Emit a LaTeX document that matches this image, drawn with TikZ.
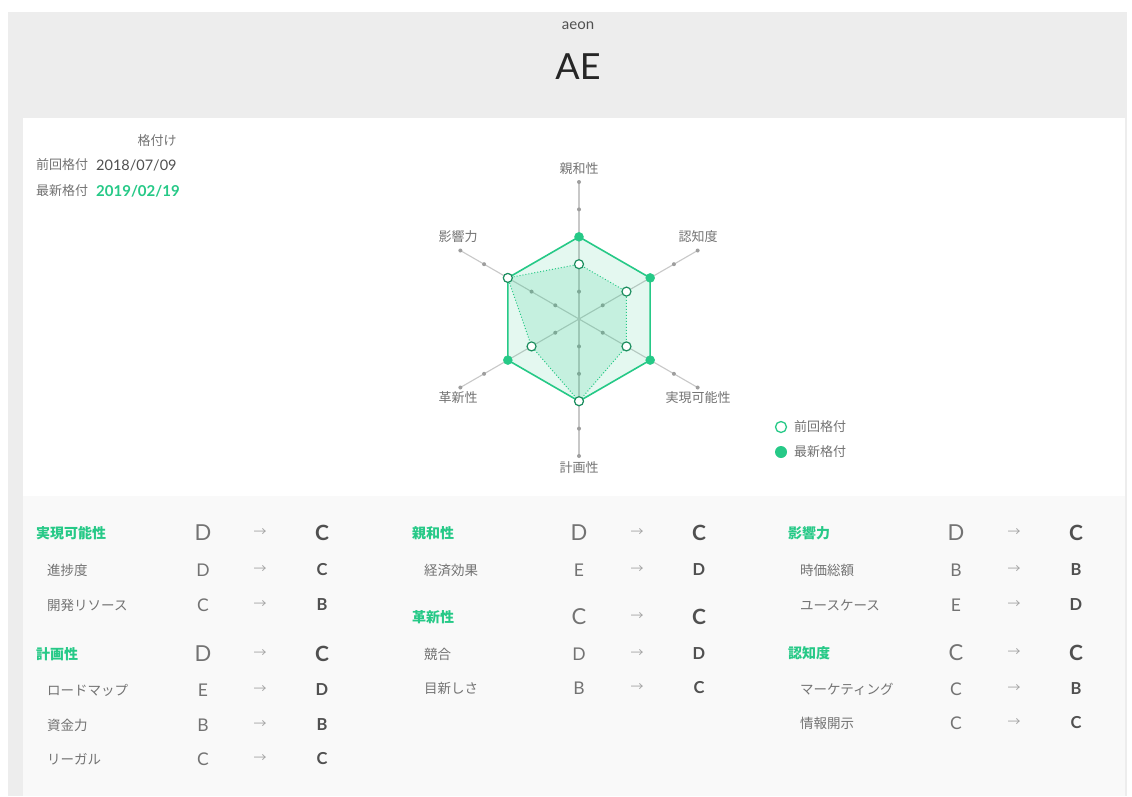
\documentclass[tikz,border=0pt]{standalone}
\usepackage{fontspec}
\setmainfont{Lato}
\newfontfamily\jp{Noto Sans CJK JP}
\usepackage{xcolor}
\usetikzlibrary{calc}
\definecolor{mint}{RGB}{38,201,135}
\definecolor{pagegrey}{RGB}{237,237,237}
\definecolor{tablegrey}{RGB}{249,249,249}
\definecolor{inkgrey}{RGB}{80,80,80}
\definecolor{softgrey}{RGB}{115,115,115}
\definecolor{axisgrey}{RGB}{200,200,200}

\begin{document}
\begin{tikzpicture}[x=1pt,y=-1pt]
    \tikzstyle{axis}=[draw,line width = 1.1pt,axisgrey]
    \tikzstyle{tickdot}=[circle,fill=black!38,inner sep=0pt,minimum size=4pt]
    \tikzstyle{newhex}=[draw=mint,line width = 1.6pt,fill=mint,fill opacity=.12]
    \tikzstyle{oldhex}=[draw=mint,line width = 1pt,dotted,fill=mint,fill opacity=.16]
    \tikzstyle{latest}=[draw=mint,circle,fill=mint,inner sep=0pt,minimum size=9pt]
    \tikzstyle{previous}=[draw=mint!70!black,circle,fill=white,line width = 1.2pt,inner sep=0pt,minimum size=9pt]
    \tikzstyle{axlabel}=[softgrey,inner sep=0pt,font=\jp\fontsize{13}{15}\selectfont]
    \tikzstyle{head}=[anchor=west,inner sep=0pt,mint,font=\jp\bfseries\fontsize{14}{16}\selectfont]
    \tikzstyle{item}=[anchor=west,inner sep=0pt,softgrey,font=\jp\fontsize{13.5}{15}\selectfont]
    \tikzstyle{bigold}=[inner sep=0pt,softgrey,font=\fontsize{22}{24}\selectfont]
    \tikzstyle{bignew}=[inner sep=0pt,inkgrey,font=\bfseries\fontsize{21}{24}\selectfont]
    \tikzstyle{oldgrade}=[inner sep=0pt,softgrey,font=\fontsize{17.5}{20}\selectfont]
    \tikzstyle{newgrade}=[inner sep=0pt,inkgrey,font=\bfseries\fontsize{16.5}{19}\selectfont]
    \tikzstyle{arr}=[inner sep=0pt,black!35,font=\jp\fontsize{13}{15}\selectfont]
    \useasboundingbox (0,0) rectangle (1132,796);
    % panels
    \fill[white] (0,0) rectangle (1132,796);
    \fill[pagegrey] (8,12) rectangle (1127,796);
    \fill[white] (23,118) rectangle (1125,496);
    \fill[tablegrey] (23,496) rectangle (1125,796);
    % title
    \node[inkgrey,font=\fontsize{15}{18}\selectfont] (brand) at (578,26) {aeon};
    \node[black!85,font=\fontsize{36}{40}\selectfont] (symbol) at (578,67) {AE};
    % rating dates
    \node[axlabel] (rk) at (157,141) {格付け};
    \node[axlabel,anchor=west] (pl) at (36,165) {前回格付};
    \node[inkgrey,inner sep=0pt,anchor=west,font=\fontsize{14.5}{17}\selectfont] (pd) at (96,165) {2018/07/09};
    \node[axlabel,anchor=west] (nl) at (36,191) {最新格付};
    \node[mint,inner sep=0pt,anchor=west,font=\bfseries\fontsize{15}{17}\selectfont] (nd) at (96,191) {2019/02/19};
    % radar axes
    \coordinate (c) at (579,319);
    \coordinate (e1) at ([shift={(-90:137)}]c);
    \coordinate (e2) at ([shift={(-30:137)}]c);
    \coordinate (e3) at ([shift={(30:137)}]c);
    \coordinate (e4) at ([shift={(90:137)}]c);
    \coordinate (e5) at ([shift={(150:137)}]c);
    \coordinate (e6) at ([shift={(210:137)}]c);
    \draw[axis] (e1) -- (e4);
    \draw[axis] (e2) -- (e5);
    \draw[axis] (e3) -- (e6);
    \foreach \a in {-90,-30,30,90,150,210}
        \foreach \r in {27.4,54.8,82.2,109.6,137}
            \node[tickdot] at ([shift={(\a:\r)}]c) {};
    \node[axlabel] (shinwa) at (579,169) {親和性};
    \node[axlabel] (ninchi) at (698,237) {認知度};
    \node[axlabel] (jitsugen) at (698,398) {実現可能性};
    \node[axlabel] (keikaku) at (579,468) {計画性};
    \node[axlabel] (kakushin) at (458,398) {革新性};
    \node[axlabel] (eikyo) at (458,237) {影響力};
    % latest
    \coordinate (n1) at ([shift={(-90:82.2)}]c);
    \coordinate (n2) at ([shift={(-30:82.2)}]c);
    \coordinate (n3) at ([shift={(30:82.2)}]c);
    \coordinate (n4) at ([shift={(90:82.2)}]c);
    \coordinate (n5) at ([shift={(150:82.2)}]c);
    \coordinate (n6) at ([shift={(210:82.2)}]c);
    % previous
    \coordinate (p1) at ([shift={(-90:54.8)}]c);
    \coordinate (p2) at ([shift={(-30:54.8)}]c);
    \coordinate (p3) at ([shift={(30:54.8)}]c);
    \coordinate (p4) at ([shift={(90:82.2)}]c);
    \coordinate (p5) at ([shift={(150:54.8)}]c);
    \coordinate (p6) at ([shift={(210:82.2)}]c);
    \draw[newhex] (n1) -- (n2) -- (n3) -- (n4) -- (n5) -- (n6) -- cycle;
    \draw[oldhex] (p1) -- (p2) -- (p3) -- (p4) -- (p5) -- (p6) -- cycle;
    \node[latest] (dn1) at (n1) {};
    \node[latest] (dn2) at (n2) {};
    \node[latest] (dn3) at (n3) {};
    \node[latest] (dn4) at (n4) {};
    \node[latest] (dn5) at (n5) {};
    \node[latest] (dn6) at (n6) {};
    \node[previous] (dp1) at (p1) {};
    \node[previous] (dp2) at (p2) {};
    \node[previous] (dp3) at (p3) {};
    \node[previous] (dp4) at (p4) {};
    \node[previous] (dp5) at (p5) {};
    \node[previous] (dp6) at (p6) {};
    % legend
    \node[draw=mint,circle,fill=white,line width = 1.3pt,inner sep=0pt,minimum size=11pt] (lgp) at (781,427) {};
    \node[axlabel,anchor=west] (lgpt) at (794,427) {前回格付};
    \node[circle,fill=mint,inner sep=0pt,minimum size=12pt] (lgn) at (781,452) {};
    \node[axlabel,anchor=west] (lgnt) at (794,452) {最新格付};
    % column 1
    \node[head] (a1h) at (36,533) {実現可能性};  \node[bigold] (a1o) at (203,533) {D}; \node[arr] (a1a) at (260,533) {→}; \node[bignew] (a1n) at (322,533) {C};
    \node[item] (a2h) at (47,570) {進捗度};      \node[oldgrade] (a2o) at (203,570) {D}; \node[arr] (a2a) at (260,570) {→}; \node[newgrade] (a2n) at (322,570) {C};
    \node[item] (a3h) at (47,605) {開発リソース}; \node[oldgrade] (a3o) at (203,605) {C}; \node[arr] (a3a) at (260,605) {→}; \node[newgrade] (a3n) at (322,605) {B};
    \node[head] (a4h) at (36,654) {計画性};      \node[bigold] (a4o) at (203,654) {D}; \node[arr] (a4a) at (260,654) {→}; \node[bignew] (a4n) at (322,654) {C};
    \node[item] (a5h) at (47,690) {ロードマップ}; \node[oldgrade] (a5o) at (203,690) {E}; \node[arr] (a5a) at (260,690) {→}; \node[newgrade] (a5n) at (322,690) {D};
    \node[item] (a6h) at (47,725) {資金力};      \node[oldgrade] (a6o) at (203,725) {B}; \node[arr] (a6a) at (260,725) {→}; \node[newgrade] (a6n) at (322,725) {B};
    \node[item] (a7h) at (47,759) {リーガル};    \node[oldgrade] (a7o) at (203,759) {C}; \node[arr] (a7a) at (260,759) {→}; \node[newgrade] (a7n) at (322,759) {C};
    % column 2
    \node[head] (b1h) at (412,533) {親和性};     \node[bigold] (b1o) at (579,533) {D}; \node[arr] (b1a) at (637,533) {→}; \node[bignew] (b1n) at (699,533) {C};
    \node[item] (b2h) at (424,570) {経済効果};   \node[oldgrade] (b2o) at (579,570) {E}; \node[arr] (b2a) at (637,570) {→}; \node[newgrade] (b2n) at (699,570) {D};
    \node[head] (b3h) at (412,617) {革新性};     \node[bigold] (b3o) at (579,617) {C}; \node[arr] (b3a) at (637,617) {→}; \node[bignew] (b3n) at (699,617) {C};
    \node[item] (b4h) at (424,654) {競合};       \node[oldgrade] (b4o) at (579,654) {D}; \node[arr] (b4a) at (637,654) {→}; \node[newgrade] (b4n) at (699,654) {D};
    \node[item] (b5h) at (424,688) {目新しさ};   \node[oldgrade] (b5o) at (579,688) {B}; \node[arr] (b5a) at (637,688) {→}; \node[newgrade] (b5n) at (699,688) {C};
    % column 3
    \node[head] (c1h) at (788,533) {影響力};     \node[bigold] (c1o) at (956,533) {D}; \node[arr] (c1a) at (1014,533) {→}; \node[bignew] (c1n) at (1076,533) {C};
    \node[item] (c2h) at (800,570) {時価総額};   \node[oldgrade] (c2o) at (956,570) {B}; \node[arr] (c2a) at (1014,570) {→}; \node[newgrade] (c2n) at (1076,570) {B};
    \node[item] (c3h) at (800,605) {ユースケース}; \node[oldgrade] (c3o) at (956,605) {E}; \node[arr] (c3a) at (1014,605) {→}; \node[newgrade] (c3n) at (1076,605) {D};
    \node[head] (c4h) at (788,653) {認知度};     \node[bigold] (c4o) at (956,653) {C}; \node[arr] (c4a) at (1014,653) {→}; \node[bignew] (c4n) at (1076,653) {C};
    \node[item] (c5h) at (800,689) {マーケティング}; \node[oldgrade] (c5o) at (956,689) {C}; \node[arr] (c5a) at (1014,689) {→}; \node[newgrade] (c5n) at (1076,689) {B};
    \node[item] (c6h) at (800,723) {情報開示};   \node[oldgrade] (c6o) at (956,723) {C}; \node[arr] (c6a) at (1014,723) {→}; \node[newgrade] (c6n) at (1076,723) {C};
\end{tikzpicture}
\end{document}
